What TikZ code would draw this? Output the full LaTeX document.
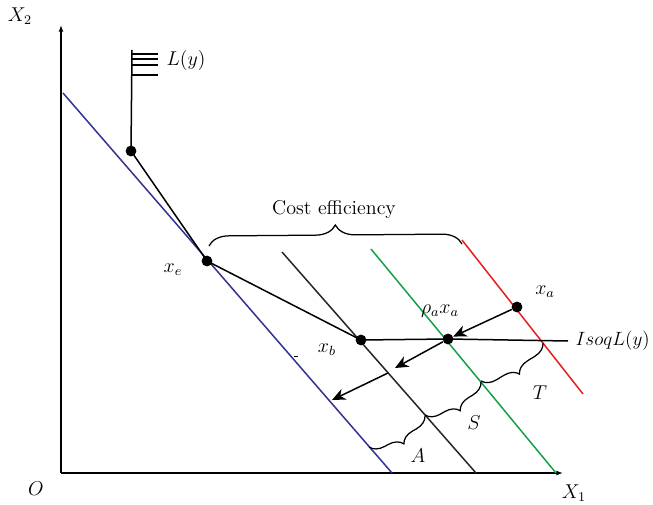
\documentclass[tikz,border=0pt]{standalone}
\usetikzlibrary{arrows.meta,decorations.pathreplacing}
\definecolor{isoblue}{RGB}{50,50,150}
\definecolor{isogreen}{RGB}{20,160,70}
\definecolor{isored}{RGB}{230,30,30}
\begin{document}
\begin{tikzpicture}[x=0.6pt,y=-0.6pt,
  ln/.style={line width=0.9pt},
  axis/.style={line width=0.9pt,-{Latex[length=4pt,width=3pt]}},
  arr/.style={line width=0.9pt,-{Stealth[length=8pt,width=7pt,inset=2.5pt]}},
  dotn/.style={circle,fill=black,inner sep=0pt,minimum size=6.5pt},
  brc/.style={decorate,decoration={brace,amplitude=8.5pt},line width=0.75pt},
  lbl/.style={inner sep=0pt,font=\large}]
\useasboundingbox (0,0) rectangle (653,505);
% axes
\coordinate (O) at (61,473);
\coordinate (ytop) at (61,25);
\coordinate (xend) at (563,473);
\draw[axis] (O) -- (ytop);
\draw[axis] (O) -- (xend);
\node[lbl] (lO) at (36,489) {$O$};
\node[lbl] (lX2) at (20,16) {$X_2$};
\node[lbl] (lX1) at (574,493) {$X_1$};
% parallel lines
\coordinate (b1) at (63,93);   \coordinate (b2) at (392,473);
\coordinate (k1) at (282,252); \coordinate (k2) at (476,473);
\coordinate (g1) at (371,249); \coordinate (g2) at (556,473);
\coordinate (r1) at (462,240); \coordinate (r2) at (583,394);
\draw[ln,isoblue] (b1) -- (b2);
\draw[ln,black!85] (k1) -- (k2);
\draw[ln,isogreen] (g1) -- (g2);
\draw[ln,isored] (r1) -- (r2);
% L(y) boundary
\coordinate (Ltop) at (132,50);
\node[dotn] (d1) at (131,151) {};
\draw[ln] (Ltop) -- (d1.center);
\foreach \yy/\nm in {54/h1,59/h2,65/h3,75/h4}{
  \coordinate (\nm a) at (132,\yy); \coordinate (\nm b) at (158,\yy);
  \draw[ln] (\nm a) -- (\nm b);}
\node[lbl] (lLy) at (186,61) {$L(y)$};
% points
\node[dotn] (xe) at (207,261) {};
\node[dotn] (xb) at (361,340) {};
\node[dotn] (rho) at (448,339) {};
\node[dotn] (xa) at (517,307) {};
\coordinate (iend) at (568,341);
\draw[ln] (d1.center) -- (xe.center) -- (xb.center) -- (rho.center) -- (iend);
\node[lbl] (lxe) at (173,270) {$x_e$};
\node[lbl] (lxb) at (327,350) {$x_b$};
\node[lbl] (lrho) at (440,311) {$\rho_a x_a$};
\node[lbl] (lxa) at (545,292) {$x_a$};
\node[lbl,anchor=east,scale=0.96,transform shape] (liso) at (650,341) {$IsoqL(y)$};
% arrows
\coordinate (m1) at (395,368);
\coordinate (p1) at (388,373);
\coordinate (p2) at (332,400);
\draw[arr] (xa) -- (rho);
\draw[arr] (rho) -- (m1);
\draw[arr] (p1) -- (p2);
% small dash
\coordinate (t1) at (294,356); \coordinate (t2) at (298,356);
\draw[line width=0.6pt] (t1) -- (t2);
% braces
\coordinate (c1) at (209,246); \coordinate (c2) at (462,244);
\draw[decorate,decoration={brace,amplitude=12pt},line width=0.75pt] (c1) -- (c2);
\node[lbl] (lce) at (334,209) {Cost efficiency};
\coordinate (T1) at (543,343); \coordinate (T2) at (481,381);
\coordinate (S1) at (481,382); \coordinate (S2) at (425,415);
\coordinate (A1) at (425,416); \coordinate (A2) at (369,447);
\draw[brc] (T1) -- (T2);
\draw[brc] (S1) -- (S2);
\draw[brc] (A1) -- (A2);
\node[lbl] (lT) at (540,393) {$T$};
\node[lbl] (lS) at (474,423) {$S$};
\node[lbl] (lA) at (418,456) {$A$};
\end{tikzpicture}
\end{document}
